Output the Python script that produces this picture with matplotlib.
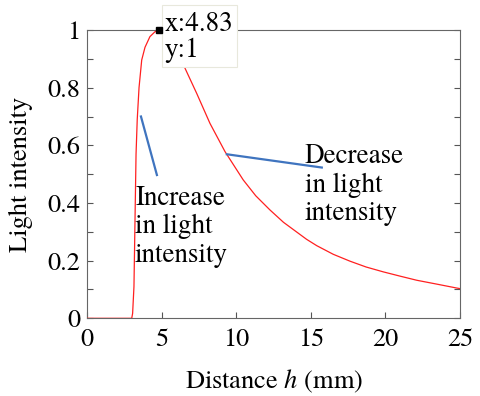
import numpy as np
import matplotlib
matplotlib.use('Agg')
import matplotlib.pyplot as plt
from matplotlib.patches import Rectangle

# light intensity vs distance
dist = [0.0, 2.98, 3.04, 3.13, 3.2, 3.27, 3.35, 3.47, 3.65, 3.87, 4.2, 4.54, 4.83,
        5.2, 5.6, 6.0, 6.46, 7.34, 8.23, 9.24, 10.46, 11.3, 12.25, 13.16, 14.71,
        15.39, 16.5, 17.63, 18.7, 19.86, 21.0, 22.1, 23.5, 24.78, 25.0]
intensity = [0.0, 0.0, 0.017, 0.11, 0.34, 0.57, 0.69, 0.80, 0.896, 0.94, 0.977, 0.994, 1.0,
             0.99, 0.965, 0.93, 0.878, 0.78, 0.676, 0.578, 0.48, 0.425, 0.376, 0.333, 0.274,
             0.252, 0.222, 0.198, 0.178, 0.161, 0.146, 0.132, 0.118, 0.105, 0.103]

peak_x, peak_y = 4.83, 1.0
rise_ptr_x = [3.6, 4.67]
rise_ptr_y = [0.70, 0.497]
fall_ptr_x = [9.36, 15.73]
fall_ptr_y = [0.569, 0.523]

x_ticks = [0, 5, 10, 15, 20, 25]
y_ticks = [0, 0.2, 0.4, 0.6, 0.8, 1]
y_tick_labels = ['0', '0.2', '0.4', '0.6', '0.8', '1']

plt.rcParams['font.family'] = ['TeX Gyre Termes', 'STIXGeneral', 'DejaVu Serif']
plt.rcParams['mathtext.fontset'] = 'stix'
fs = 19
fs_note = 19.5

fig = plt.figure(figsize=(4.81, 3.96), dpi=100)
ax = fig.add_axes([0.1815, 0.1962, 0.9563 - 0.1815, 0.9242 - 0.1962])

ax.plot(dist, intensity, color='#ff2020', lw=0.9, zorder=3)
ax.plot(rise_ptr_x, rise_ptr_y, color='#3f74bf', lw=1.6, zorder=3)
ax.plot(fall_ptr_x, fall_ptr_y, color='#3f74bf', lw=1.6, zorder=3)

# va='baseline' pins the last line's baseline
ax.text(3.2, 0.196, 'Increase\nin light\nintensity', fontsize=fs_note, va='baseline',
        ha='left', linespacing=1.17)
ax.text(14.6, 0.341, 'Decrease\nin light\nintensity', fontsize=fs_note, va='baseline',
        ha='left', linespacing=1.17)

# data tip
ax.add_patch(Rectangle((5.01, 0.872), 5.03, 0.215, facecolor='white', edgecolor='#e8e8dc',
                       lw=0.8, clip_on=False, zorder=5))
ax.text(5.16, 0.907, 'x:4.83\ny:1', fontsize=fs_note, va='baseline', ha='left',
        linespacing=1.05, zorder=6, clip_on=False)
ax.plot([peak_x], [peak_y], marker='s', ms=5, color='black', clip_on=False, zorder=7)

ax.set_xlim(0, 25)
ax.set_ylim(0, 1)
ax.set_xticks(x_ticks)
ax.set_yticks(y_ticks)
ax.set_yticklabels(y_tick_labels)
ax.set_yticks(np.arange(0.1, 1.0, 0.2), minor=True)
ax.tick_params(axis='both', which='both', direction='in', labelsize=fs, colors='#555555',
               labelcolor='black', length=4, width=0.8)
ax.tick_params(axis='x', pad=7)
ax.tick_params(axis='y', pad=5, right=True)
ax.tick_params(axis='y', which='minor', right=True)
for s in ax.spines.values():
    s.set_color('#666666')
    s.set_linewidth(0.8)

ax.set_xlabel('Distance $h$ (mm)', fontsize=fs, labelpad=11)
ax.set_ylabel('Light intensity', fontsize=fs, labelpad=10)

fig.savefig('out.png', dpi=100)
